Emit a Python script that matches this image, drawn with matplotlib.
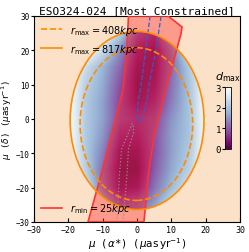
import numpy as np
import matplotlib
matplotlib.use('Agg')
import matplotlib.pyplot as plt
from matplotlib.patches import Ellipse, Polygon
from matplotlib.lines import Line2D

plt.rcParams['font.family'] = 'DejaVu Sans Mono'
plt.rcParams['mathtext.fontset'] = 'dejavusans'

# d_max field (rows top -> bottom, y = 25 .. -25; cols x = -20 .. 20)
dmax_grid = [
    [3.0, 3.0, 3.0, 2.2, 0.8, 0.5, 1.8, 3.0, 3.0],
    [3.0, 3.0, 2.4, 1.4, 0.4, 0.2, 1.2, 2.5, 3.0],
    [3.0, 2.4, 1.8, 1.1, 0.2, 0.2, 1.1, 2.1, 3.0],
    [3.0, 2.2, 1.7, 0.9, 0.1, 0.3, 1.2, 2.0, 3.0],
    [3.0, 2.1, 1.6, 0.8, 0.2, 0.5, 1.3, 2.0, 3.0],
    [3.0, 2.1, 1.6, 0.8, 0.6, 0.8, 1.5, 2.0, 3.0],
    [3.0, 2.1, 1.5, 0.5, 0.4, 0.9, 1.6, 2.0, 3.0],
    [3.0, 2.1, 1.3, 0.2, 0.2, 0.9, 1.6, 2.1, 3.0],
    [3.0, 2.2, 1.1, 0.1, 0.1, 1.0, 1.7, 2.2, 3.0],
    [3.0, 2.5, 1.2, 0.2, 0.3, 1.2, 1.9, 2.5, 3.0],
    [3.0, 3.0, 2.0, 0.9, 1.0, 1.6, 2.4, 3.0, 3.0],
]
grid_x = [-20, 20]
grid_y = [-25, 25]

# r_max ellipses: (center x, center y, width, height)
ell_408 = (-0.2, -1.5, 32.8, 44.5)
ell_817 = (0.0, -0.45, 39.0, 51.9)

# r_min = 25 kpc band outline
rmin_x = [-2.5, -3.0, -4.1, -7.0, -10.0, -14.3, 2.0, 3.5, 5.0, 7.0, 8.4, 12.8, 13.1, 9.0]
rmin_y = [30, 20, 8.7, -3, -14.6, -30, -30, -14.6, -5, 3, 8.7, 24.8, 26.8, 30]

# most-constrained contours
blue_x = [3.8, 2.5, 1.2, 0.3, 0.0, 0.3, 0.8, 1.8, 2.8, 3.5, 5.5, 7.0]
blue_y = [30, 20, 10, 5, 0, -0.9, -0.8, 1, 5, 10, 20, 30]
gray_x = [-5.8, -5.2, -4.5, -2.5, -1.5, -1.2, -1.0, -2.5, -3.0, -4.1]
gray_y = [-30, -17, -8.7, -4, -1.5, -1.5, -4, -8.7, -17, -30]

fig = plt.figure(figsize=(2.49, 2.53), dpi=100)
ax = fig.add_axes([0.137, 0.119, 0.827, 0.814])
ax.set_facecolor('#fbe1c8')

hw = (grid_x[1] - grid_x[0]) / (len(dmax_grid[0]) - 1) / 2
hh = (grid_y[1] - grid_y[0]) / (len(dmax_grid) - 1) / 2
im = ax.imshow(np.array(dmax_grid)[::-1], origin='lower', cmap='BuPu_r', vmin=0, vmax=3,
               extent=[grid_x[0] - hw, grid_x[1] + hw, grid_y[0] - hh, grid_y[1] + hh],
               interpolation='bilinear', aspect='auto', zorder=1)
clip = Ellipse(ell_817[:2], ell_817[2], ell_817[3], transform=ax.transData)
im.set_clip_path(clip)

ax.add_patch(Polygon(list(zip(rmin_x, rmin_y)), closed=True, facecolor='#ff3030',
                     alpha=0.4, edgecolor='none', zorder=2))
ax.add_patch(Polygon(list(zip(rmin_x, rmin_y)), closed=True, facecolor='none',
                     edgecolor='#ff3333', lw=1.2, zorder=4))

ax.plot(blue_x, blue_y, color='#2f5fd0', ls='--', lw=0.9, zorder=3)
ax.plot(gray_x, gray_y, color='#909090', ls=':', lw=0.9, zorder=3)

for (cx, cy, w, h), ls in [(ell_408, '--'), (ell_817, '-')]:
    ax.add_patch(Ellipse((cx, cy), w, h, facecolor='none', edgecolor='darkorange',
                         ls=ls, lw=1.2, zorder=4))

ax.set_xlim(-30, 30)
ax.set_ylim(-30, 30)
ax.set_xticks([-30, -20, -10, 0, 10, 20, 30])
ax.set_yticks([-30, -20, -10, 0, 10, 20, 30])
ax.tick_params(axis='x', direction='in', labelsize=6, length=3, pad=2)
ax.tick_params(axis='y', direction='out', labelsize=5.5, length=2.5, pad=1)
ax.set_xlabel(r'$\mu$ ($\alpha$*) ($\mu {\rm as\,yr}^{-1}$)', fontsize=7.5, labelpad=1)
ax.set_ylabel(r'$\mu$ ($\delta$) ($\mu {\rm as\,yr}^{-1}$)', fontsize=6.5)
ax.yaxis.set_label_coords(-0.1, 0.5)
ax.set_title('ESO324-024 [Most Constrained]', fontsize=8, pad=2)

h1 = [Line2D([], [], color='darkorange', ls='--', lw=1.2),
      Line2D([], [], color='darkorange', ls='-', lw=1.2)]
leg1 = ax.legend(h1, [r'$r_{\rm max} = 408kpc$', r'$r_{\rm max} = 817kpc$'],
                 loc='upper left', frameon=False, fontsize=7, handlelength=2.2,
                 borderaxespad=0.3)
ax.add_artist(leg1)
ax.legend([Line2D([], [], color='#ff3333', lw=1.2)], [r'$r_{\rm min} = 25kpc$'],
          loc='lower left', frameon=False, fontsize=7, handlelength=2.2,
          borderaxespad=0.3)

cax = ax.inset_axes([0.927, 0.354, 0.03, 0.30])
cb = fig.colorbar(im, cax=cax, ticks=[0, 1, 2, 3])
cb.ax.yaxis.set_ticks_position('left')
cb.ax.tick_params(labelsize=6.5, length=2, pad=1)
cb.outline.set_linewidth(0.6)
cax.set_title(r'$d_{\rm max}$', fontsize=8, pad=6)

fig.savefig('out.png', dpi=100)
